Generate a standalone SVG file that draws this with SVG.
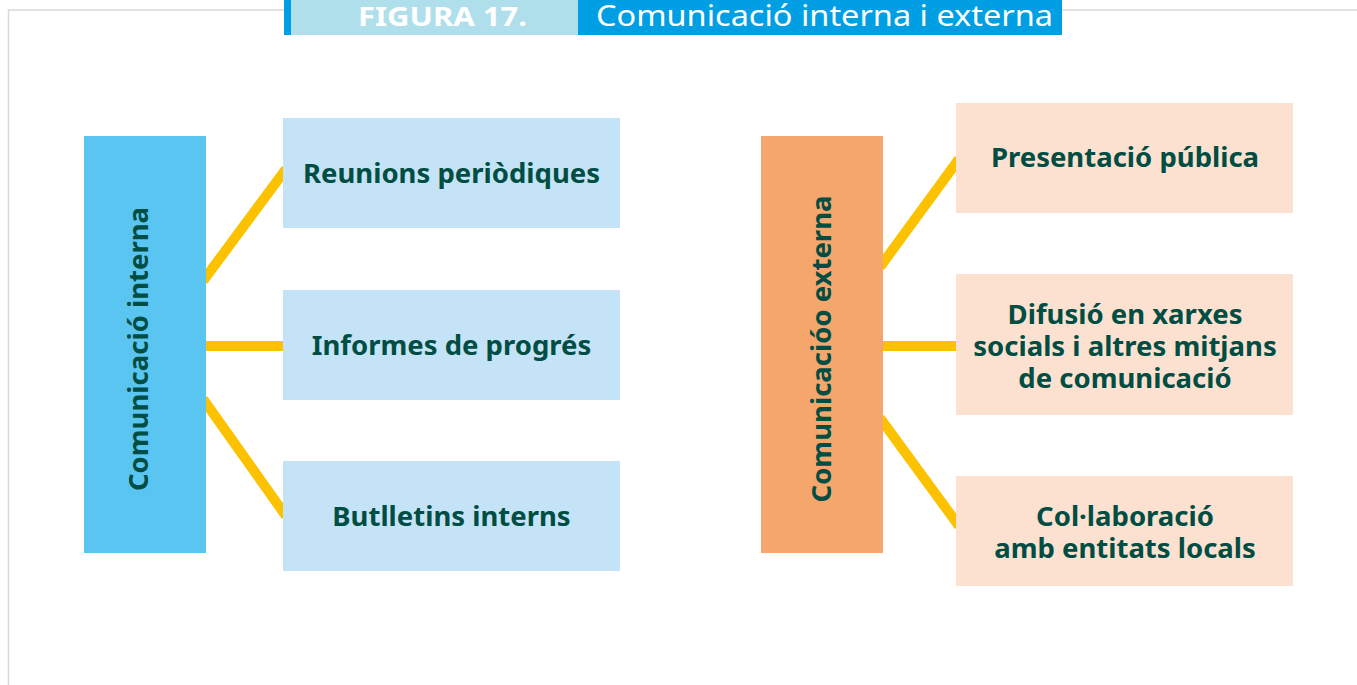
<svg xmlns="http://www.w3.org/2000/svg" width="1357" height="685" viewBox="0 0 1357 685">
<style>
.lbl{font-family:"Noto Sans","Open Sans",sans-serif;font-weight:700;font-size:27.5px;fill:#004d43;text-anchor:middle}
.con{stroke:#fcc200;stroke-width:10;fill:none}
.ci{fill:#c5e3f6}
.ce{fill:#fce1d1}
</style>
<rect width="1357" height="685" fill="#ffffff"/>
<g id="frame">
<polyline points="284,10 8.5,10 8.5,685" fill="none" stroke="#d9d9d9" stroke-width="1.5"/>
<line x1="1062" y1="10" x2="1357" y2="10" stroke="#d9d9d9" stroke-width="1.5"/>
</g>
<g id="header">
<rect x="284" y="0" width="7" height="35" fill="#009fe3"/>
<rect x="291" y="0" width="287" height="35" fill="#b0dfec"/>
<rect x="578" y="0" width="484" height="35" fill="#009fe3"/>
<text x="358" y="26" font-family="Noto Sans, sans-serif" font-weight="700" font-size="27" fill="#ffffff" textLength="169" lengthAdjust="spacingAndGlyphs">FIGURA 17.</text>
<text x="596" y="26" font-family="Noto Sans, sans-serif" font-size="29" fill="#ffffff" textLength="457" lengthAdjust="spacingAndGlyphs">Comunicació interna i externa</text>
</g>
<g id="connectors">
<line class="con" x1="203" y1="281" x2="286" y2="169"/>
<line class="con" x1="203" y1="346" x2="286" y2="346"/>
<line class="con" x1="203" y1="399" x2="286" y2="516"/>
<line class="con" x1="880" y1="267" x2="959" y2="159"/>
<line class="con" x1="880" y1="346" x2="959" y2="346"/>
<line class="con" x1="880" y1="418" x2="959" y2="526"/>
</g>
<g id="interna">
<rect x="84" y="136" width="122" height="417" fill="#5bc5f2"/>
<text class="lbl" transform="translate(148,349) rotate(-90)">Comunicació interna</text>
</g>
<g id="reunions">
<rect class="ci" x="283" y="118" width="337" height="110"/>
<text class="lbl" x="451.5" y="183">Reunions periòdiques</text>
</g>
<g id="informes">
<rect class="ci" x="283" y="290" width="337" height="110"/>
<text class="lbl" x="451.5" y="355">Informes de progrés</text>
</g>
<g id="butlletins">
<rect class="ci" x="283" y="461" width="337" height="110"/>
<text class="lbl" x="451.5" y="526">Butlletins interns</text>
</g>
<g id="externa">
<rect x="761" y="136" width="122" height="417" fill="#f4a66c"/>
<text class="lbl" transform="translate(831,349) rotate(-90)">Comunicacióo externa</text>
</g>
<g id="presentacio">
<rect class="ce" x="956" y="103" width="337" height="110"/>
<text class="lbl" x="1125" y="167">Presentació pública</text>
</g>
<g id="difusio">
<rect class="ce" x="956" y="274" width="337" height="141"/>
<text class="lbl" x="1125" y="324">Difusió en xarxes</text>
<text class="lbl" x="1125" y="356">socials i altres mitjans</text>
<text class="lbl" x="1125" y="388">de comunicació</text>
</g>
<g id="collaboracio">
<rect class="ce" x="956" y="476" width="337" height="110"/>
<text class="lbl" x="1125" y="526">Col·laboració</text>
<text class="lbl" x="1125" y="558">amb entitats locals</text>
</g>
</svg>
